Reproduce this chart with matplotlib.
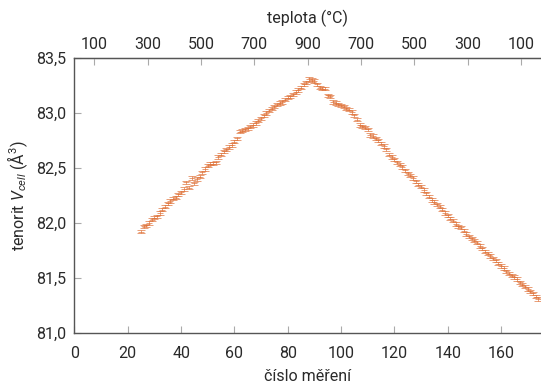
import matplotlib
matplotlib.use("Agg")
import matplotlib.pyplot as plt
from matplotlib.ticker import FuncFormatter

plt.rcParams['font.family'] = ['Roboto', 'DejaVu Sans']
plt.rcParams['mathtext.fontset'] = 'custom'
plt.rcParams['mathtext.rm'] = 'Roboto'
plt.rcParams['mathtext.it'] = 'Roboto:italic'

measurement = list(range(25, 175))
volume = [
    81.92, 81.97, 81.98, 82.00, 82.03, 82.05, 82.06, 82.09, 82.12, 82.15,
    82.18, 82.20, 82.22, 82.23, 82.26, 82.28, 82.31, 82.37, 82.32, 82.41,
    82.36, 82.40, 82.42, 82.46, 82.49, 82.52, 82.54, 82.54, 82.55, 82.60,
    82.62, 82.65, 82.67, 82.69, 82.71, 82.74, 82.77, 82.83, 82.84, 82.85,
    82.86, 82.88, 82.89, 82.91, 82.93, 82.95, 82.98, 83.00, 83.02, 83.04,
    83.06, 83.08, 83.09, 83.10, 83.12, 83.14, 83.15, 83.17, 83.19, 83.21,
    83.23, 83.26, 83.28, 83.31, 83.30, 83.29, 83.26, 83.23, 83.22, 83.22,
    83.16, 83.15, 83.10, 83.09, 83.08, 83.07, 83.06, 83.04, 83.03, 83.01,
    82.98, 82.94, 82.89, 82.88, 82.87, 82.85, 82.80, 82.79, 82.77, 82.75,
    82.72, 82.70, 82.67, 82.62, 82.60, 82.58, 82.55, 82.53, 82.51, 82.48,
    82.45, 82.43, 82.41, 82.38, 82.35, 82.33, 82.30, 82.27, 82.24, 82.21,
    82.19, 82.17, 82.15, 82.12, 82.09, 82.07, 82.04, 82.02, 81.99, 81.97,
    81.96, 81.93, 81.90, 81.88, 81.86, 81.84, 81.82, 81.79, 81.77, 81.74,
    81.72, 81.70, 81.68, 81.66, 81.63, 81.61, 81.59, 81.56, 81.54, 81.52,
    81.51, 81.49, 81.46, 81.44, 81.42, 81.40, 81.38, 81.36, 81.33, 81.31,
]
volume_err = [0.015] * len(volume)

x_ticks = [0, 20, 40, 60, 80, 100, 120, 140, 160]
y_ticks = [81.0, 81.5, 82.0, 82.5, 83.0, 83.5]
temp_tick_pos = [7.5, 27.5, 47.5, 67.5, 87.5, 107.5, 127.5, 147.5, 167.5]
temp_tick_labels = ['100', '300', '500', '700', '900', '700', '500', '300', '100']

FS = 11.5
TXT = '#2a2a2a'

fig = plt.figure(figsize=(5.41, 3.83), dpi=100)
ax = fig.add_axes([0.1377, 0.1305, 1.0 - 0.1377, 0.8486 - 0.1305])

ax.errorbar(measurement, volume, yerr=volume_err, fmt='_', color='#e0743c',
            ecolor='#e0743c', elinewidth=0.7, capsize=3, capthick=0.7,
            markersize=5, markeredgewidth=0.7, alpha=0.7)

ax.set_xlim(0, 175)
ax.set_ylim(81.0, 83.5)
ax.set_xticks(x_ticks)
ax.set_yticks(y_ticks)
ax.yaxis.set_major_formatter(FuncFormatter(lambda v, p: f"{v:.1f}".replace('.', ',')))

spine_col = '#555555'
for s in ['left', 'bottom', 'top']:
    ax.spines[s].set_color(spine_col)
    ax.spines[s].set_linewidth(1.0)
ax.spines['right'].set_visible(False)

ax.tick_params(axis='both', direction='in', length=5, width=0.8, color='#aaaaaa',
               labelsize=FS, labelcolor=TXT)
ax.tick_params(axis='x', pad=9)
ax.tick_params(axis='y', pad=6)

ax.set_xlabel('číslo měření', fontsize=FS, color=TXT, labelpad=6)
ax.set_ylabel('tenorit $V_{cell}$ (Å$^3$)', fontsize=FS, color=TXT, labelpad=4)

ax2 = ax.twiny()
ax2.set_xlim(ax.get_xlim())
ax2.set_xticks(temp_tick_pos)
ax2.set_xticklabels(temp_tick_labels)
ax2.tick_params(axis='x', direction='in', length=5, width=0.8, color='#aaaaaa',
                labelsize=FS, labelcolor=TXT, pad=4)
for s in ['left', 'bottom', 'right']:
    ax2.spines[s].set_visible(False)
ax2.spines['top'].set_color(spine_col)
ax2.set_xlabel('teplota (°C)', fontsize=FS, color=TXT, labelpad=10)

fig.savefig('out.png', dpi=100)
